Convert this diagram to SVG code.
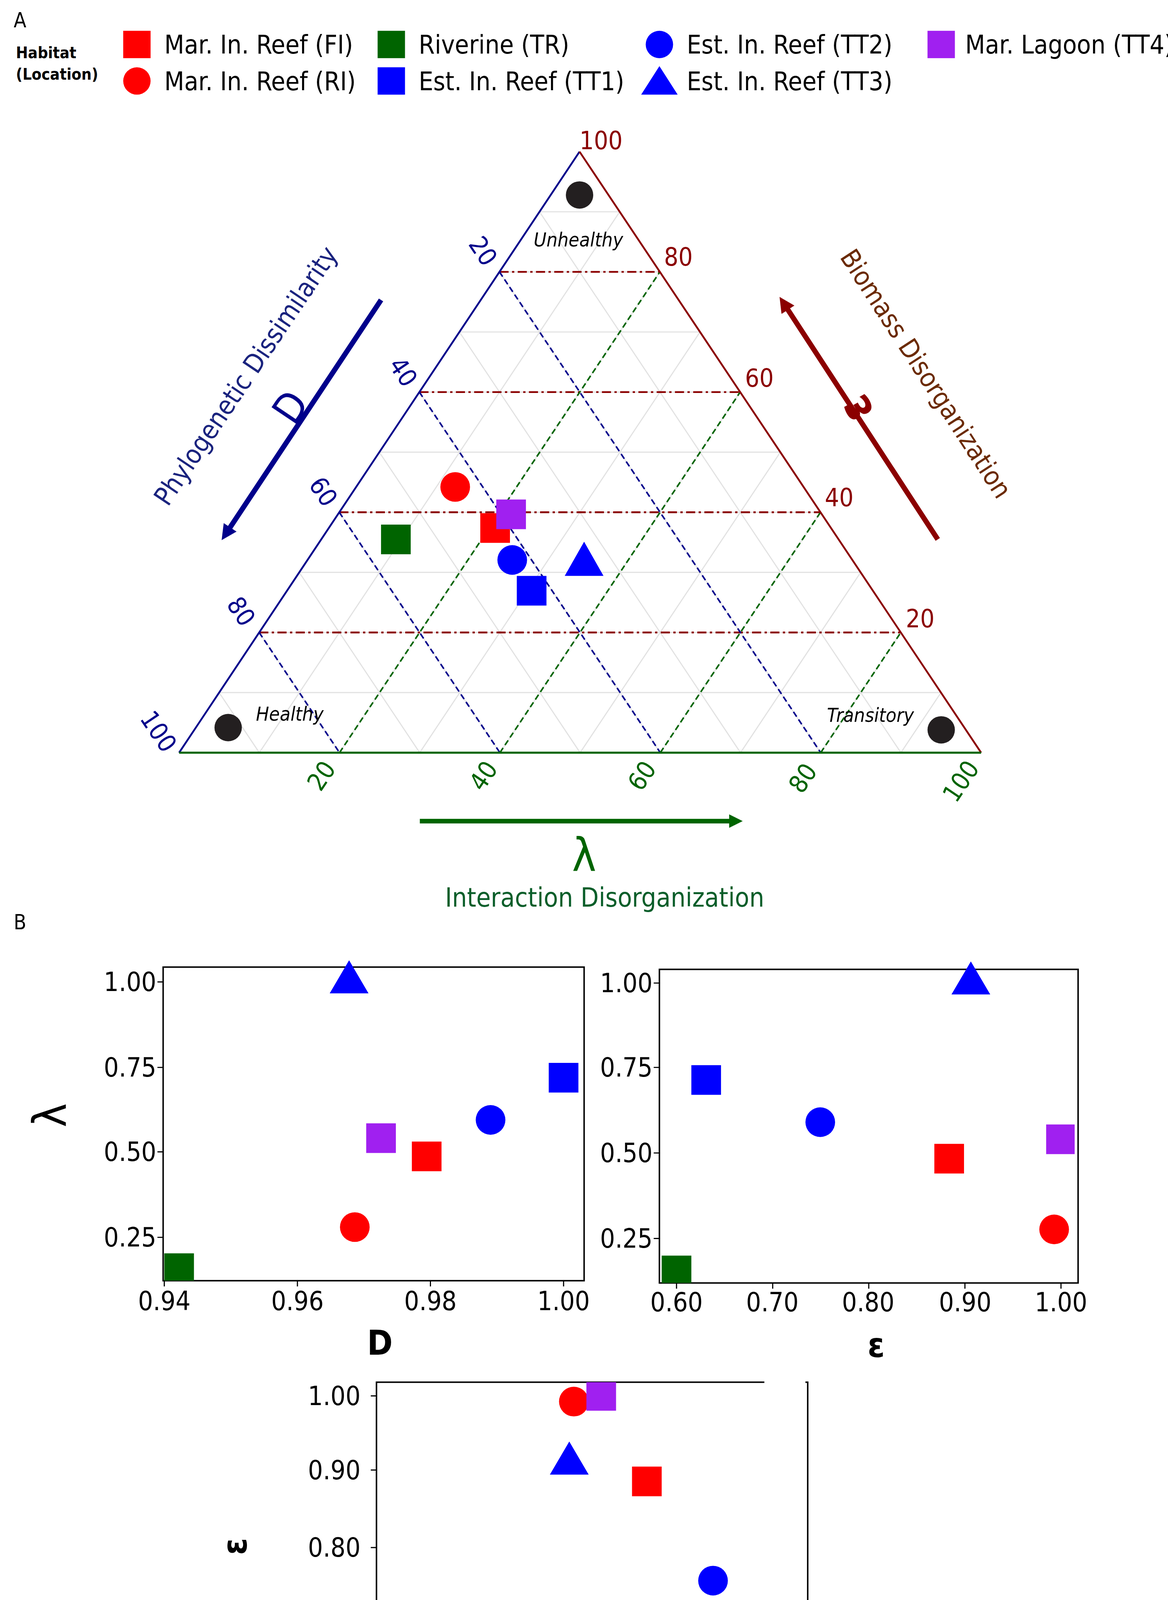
<svg xmlns="http://www.w3.org/2000/svg" width="2989" height="4531" viewBox="0 0 2989 4531">
<defs>
<style>
text{font-family:"DejaVu Sans Condensed","DejaVu Sans",sans-serif;}
.leg{font-size:22.5px;fill:#000}
.grid{stroke:#e2e2e2;stroke-width:1;fill:none}
.rd{stroke:#8b0000;stroke-width:1.6;stroke-dasharray:8 3 2 3;fill:none}
.bd{stroke:#00008b;stroke-width:1.4;stroke-dasharray:5 3;fill:none}
.gd{stroke:#006400;stroke-width:1.4;stroke-dasharray:5 3;fill:none}
.tb{fill:#00008b;font-size:22px}
.tr{fill:#8b0000;font-size:22px}
.tg{fill:#006400;font-size:22px}
.it{font-style:italic;font-size:17px;fill:#000}
.ax{font-size:23px;fill:#000}
.frame{fill:none;stroke:#000;stroke-width:1.3}
.tick{stroke:#000;stroke-width:1}
.tt{font-size:30px;font-weight:bold;fill:#000}
</style>
<marker id="ab" viewBox="0 0 10 10" refX="5" refY="5" markerWidth="3" markerHeight="3" orient="auto"><path d="M0,0L10,5L0,10z" fill="#00008b"/></marker>
<marker id="ar" viewBox="0 0 10 10" refX="5" refY="5" markerWidth="3" markerHeight="3" orient="auto"><path d="M0,0L10,5L0,10z" fill="#8b0000"/></marker>
<marker id="ag" viewBox="0 0 10 10" refX="5" refY="5" markerWidth="3" markerHeight="3" orient="auto"><path d="M0,0L10,5L0,10z" fill="#006400"/></marker>
</defs>
<rect width="2989" height="4531" fill="#fff"/>
<g transform="scale(2.9195)">
<g id="legend">
<text x="12" y="24" font-size="18">A</text>
<text x="14" y="51" font-size="14" font-weight="bold">Habitat</text>
<text x="14" y="70" font-size="14" font-weight="bold">(Location)</text>
<rect x="108" y="27" width="24" height="24" fill="#ff0000"/><text class="leg" x="144" y="47">Mar. In. Reef (FI)</text>
<circle cx="120" cy="71" r="12" fill="#ff0000"/><text class="leg" x="144" y="79">Mar. In. Reef (RI)</text>
<rect x="331" y="27" width="24" height="24" fill="#006400"/><text class="leg" x="367" y="47">Riverine (TR)</text>
<rect x="331" y="59" width="24" height="24" fill="#0000ff"/><text class="leg" x="367" y="79">Est. In. Reef (TT1)</text>
<circle cx="578" cy="39" r="12" fill="#0000ff"/><text class="leg" x="602" y="47">Est. In. Reef (TT2)</text>
<path d="M578,58L594,83L562,83z" fill="#0000ff"/><text class="leg" x="602" y="79">Est. In. Reef (TT3)</text>
<rect x="813" y="27" width="24" height="24" fill="#a020f0"/><text class="leg" x="846" y="47" font-size="21px">Mar. Lagoon (TT4)</text>
</g>
<g id="ternary">
<g class="grid">
<path d="M192.1,607.3H824.8M227.2,554.6H789.6M262.3,501.9H754.4M297.4,449.2H719.2M332.5,396.5H684M367.6,343.8H648.8M402.7,291.1H613.6M437.8,238.4H578.4M472.9,185.7H543.2"/>
<path d="M192.1,607.3L227.3,660M227.2,554.6L297.6,660M262.3,501.9L367.9,660M297.4,449.2L438.2,660M332.5,396.5L508.5,660M367.6,343.8L578.8,660M402.7,291.1L649.1,660M437.8,238.4L719.4,660M472.9,185.7L789.7,660"/>
<path d="M227.3,660L543.2,185.7M297.6,660L578.4,238.4M367.9,660L613.6,291.1M438.2,660L648.8,343.8M508.5,660L684,396.5M578.8,660L719.2,449.2M649.1,660L754.4,501.9M719.4,660L789.6,554.6M789.7,660L824.8,607.3"/>
</g>
<path class="rd" d="M227.2,554.6H789.6M297.4,449.2H719.2M367.6,343.8H648.8M437.8,238.4H578.4"/>
<path class="bd" d="M227.2,554.6L297.6,660M297.4,449.2L438.2,660M367.6,343.8L578.8,660M437.8,238.4L719.4,660"/>
<path class="gd" d="M297.6,660L578.4,238.4M438.2,660L648.8,343.8M578.8,660L719.2,449.2M719.4,660L789.6,554.6"/>
<line x1="157" y1="660" x2="508" y2="133" stroke="#00008b" stroke-width="1.6"/>
<line x1="508" y1="133" x2="860" y2="660" stroke="#8b0000" stroke-width="1.6"/>
<line x1="157" y1="660" x2="860" y2="660" stroke="#006400" stroke-width="1.8"/>
<g class="tb">
<text transform="translate(410,214) rotate(56)">20</text>
<text transform="translate(340,320) rotate(56)">40</text>
<text transform="translate(270,425) rotate(56)">60</text>
<text transform="translate(198,530) rotate(56)">80</text>
<text transform="translate(122,630) rotate(56)">100</text>
</g>
<g class="tr">
<text x="508" y="131">100</text>
<text x="582" y="233">80</text>
<text x="653" y="339">60</text>
<text x="723" y="444">40</text>
<text x="794" y="550">20</text>
</g>
<g class="tg">
<text transform="translate(281,695) rotate(-56)">20</text>
<text transform="translate(423,695) rotate(-56)">40</text>
<text transform="translate(562,695) rotate(-56)">60</text>
<text transform="translate(703,697) rotate(-56)">80</text>
<text transform="translate(838,705) rotate(-56)">100</text>
</g>
<circle cx="508" cy="171" r="12" fill="#231f20"/>
<circle cx="200" cy="638" r="12" fill="#231f20"/>
<circle cx="825" cy="640" r="12" fill="#231f20"/>
<text class="it" x="507" y="216" text-anchor="middle">Unhealthy</text>
<text class="it" x="254" y="632" text-anchor="middle">Healthy</text>
<text class="it" x="763" y="633" text-anchor="middle">Transitory</text>
<ellipse cx="399" cy="427" rx="13" ry="13" fill="#ff0000"/>
<rect x="421" y="450" width="26" height="26" fill="#ff0000"/>
<rect x="435" y="438" width="26" height="26" fill="#a020f0"/>
<rect x="334" y="460" width="26" height="26" fill="#006400"/>
<circle cx="449" cy="491" r="13" fill="#0000ff"/>
<path d="M512,475L529,505L495,505z" fill="#0000ff"/>
<rect x="453" y="505" width="26" height="26" fill="#0000ff"/>
<line x1="334" y1="263" x2="198" y2="468" stroke="#00008b" stroke-width="4.5" marker-end="url(#ab)"/>
<text transform="translate(222,334) rotate(-56)" text-anchor="middle" font-size="23" fill="#1a237e">Phylogenetic Dissimilarity</text>
<text transform="translate(265,364) rotate(-56)" text-anchor="middle" font-size="36" fill="#00008b">D</text>
<line x1="822" y1="473" x2="687" y2="266" stroke="#8b0000" stroke-width="4.5" marker-end="url(#ar)"/>
<text transform="translate(805,332) rotate(57)" text-anchor="middle" font-size="23" fill="#6b2a00">Biomass Disorganization</text>
<text transform="translate(762,352) rotate(-120)" text-anchor="middle" font-size="40" font-weight="bold" fill="#8b0000">ε</text>
<line x1="368" y1="720" x2="645" y2="720" stroke="#006400" stroke-width="4" marker-end="url(#ag)"/>
<text x="512" y="764" text-anchor="middle" font-size="40" fill="#006400">λ</text>
<text x="530" y="795" text-anchor="middle" font-size="23" fill="#0a5e2a">Interaction Disorganization</text>
</g>
<text x="12" y="815" font-size="18">B</text>
<g id="plot1">
<rect class="frame" x="143" y="848" width="369" height="275"/>
<g class="tick"><path d="M138,861H143M138,936H143M138,1010H143M138,1085H143M144,1123V1128M260.7,1123V1128M377.3,1123V1128M494,1123V1128"/></g>
<g class="ax" text-anchor="end"><text x="137" y="869">1.00</text><text x="137" y="944">0.75</text><text x="137" y="1018">0.50</text><text x="137" y="1093">0.25</text></g>
<g class="ax" text-anchor="middle"><text x="144" y="1149">0.94</text><text x="260.7" y="1149">0.96</text><text x="377.3" y="1149">0.98</text><text x="494" y="1149">1.00</text></g>
<text class="tt" x="333" y="1188" text-anchor="middle">D</text>
<text transform="translate(58,978) rotate(-90)" text-anchor="middle" font-size="40" fill="#000">λ</text>
<path d="M306,842L323,871L289,871z" fill="#0000ff"/>
<rect x="481" y="932" width="26" height="26" fill="#0000ff"/>
<circle cx="430" cy="982" r="13" fill="#0000ff"/>
<rect x="321" y="985" width="26" height="26" fill="#a020f0"/>
<rect x="361" y="1001" width="26" height="26" fill="#ff0000"/>
<circle cx="311" cy="1076" r="13" fill="#ff0000"/>
<rect x="144" y="1099" width="26" height="24" fill="#006400"/>
</g>
<g id="plot2">
<rect class="frame" x="578" y="850" width="367" height="275"/>
<g class="tick"><path d="M573,862H578M573,936H578M573,1011H578M573,1086H578M593,1125V1130M677.3,1125V1130M761.5,1125V1130M845.8,1125V1130M930,1125V1130"/></g>
<g class="ax" text-anchor="end"><text x="572" y="870">1.00</text><text x="572" y="944">0.75</text><text x="572" y="1019">0.50</text><text x="572" y="1094">0.25</text></g>
<g class="ax" text-anchor="middle"><text x="593" y="1150">0.60</text><text x="677" y="1150">0.70</text><text x="761" y="1150">0.80</text><text x="846" y="1150">0.90</text><text x="930" y="1150">1.00</text></g>
<text class="tt" x="768" y="1190" text-anchor="middle" font-size="34">ε</text>
<path d="M851,843L868,872L834,872z" fill="#0000ff"/>
<rect x="606" y="934" width="26" height="26" fill="#0000ff"/>
<circle cx="719" cy="984" r="13" fill="#0000ff"/>
<rect x="819" y="1003" width="26" height="26" fill="#ff0000"/>
<rect x="917" y="986" width="25" height="26" fill="#a020f0"/>
<circle cx="924" cy="1078" r="13" fill="#ff0000"/>
<rect x="580" y="1101" width="26" height="24" fill="#006400"/>
</g>
<g id="plot3">
<rect class="frame" x="330" y="1212" width="378" height="283"/>
<line x1="670" y1="1212" x2="706" y2="1212" stroke="#fff" stroke-width="2"/>
<g class="tick"><path d="M325,1224H330M325,1289H330M325,1357H330M325,1416H330M325,1487H330M342,1495V1500M458.3,1495V1500M574.7,1495V1500M691,1495V1500"/></g>
<g class="ax" text-anchor="end"><text x="316" y="1232">1.00</text><text x="316" y="1297">0.90</text><text x="316" y="1365">0.80</text><text x="316" y="1424">0.70</text><text x="316" y="1495">0.60</text></g>
<g class="ax" text-anchor="middle"><text x="342" y="1520">0.94</text><text x="458" y="1520">0.96</text><text x="575" y="1520">0.98</text><text x="691" y="1520">1.00</text></g>
<text class="tt" x="524" y="1548" text-anchor="middle">D</text>
<text class="tt" transform="translate(216,1356) rotate(-90)" text-anchor="middle" font-size="34">ε</text>
<circle cx="503" cy="1229" r="13" fill="#ff0000"/>
<rect x="514" y="1212" width="26" height="25" fill="#a020f0"/>
<path d="M499,1264L516,1293L482,1293z" fill="#0000ff"/>
<rect x="554" y="1286" width="26" height="26" fill="#ff0000"/>
<circle cx="625" cy="1386" r="13" fill="#0000ff"/>
<rect x="678" y="1450" width="26" height="26" fill="#0000ff"/>
<rect x="334" y="1471" width="26" height="24" fill="#006400"/>
</g>
</g>
</svg>
